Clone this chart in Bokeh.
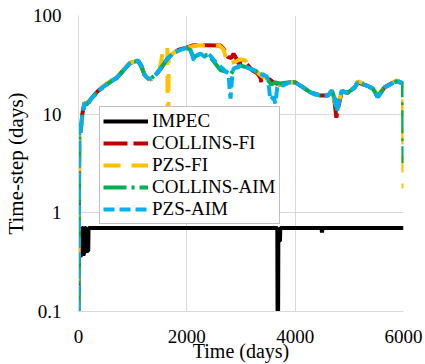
from bokeh.plotting import figure
from bokeh.models import Range1d, FixedTicker, CustomJSTickFormatter, Legend, LegendItem
from bokeh.embed import file_html
from bokeh.resources import INLINE

# ---------------- data ----------------
x_ticks = [0, 2000, 4000, 6000]
y_ticks = [0.1, 1, 10, 100]

series_names = ["IMPEC", "COLLINS-FI", "PZS-FI", "COLLINS-AIM", "PZS-AIM"]

impec_days = [0, 5, 35, 40, 60, 65, 85, 90, 110, 115, 140, 145, 180, 185,
              3670, 3675, 3685, 3690, 3700, 3720, 3725, 4485, 4495, 4505, 6000]
impec_dt = [0.12, 0.7, 0.7, 0.37, 0.37, 0.7, 0.7, 0.37, 0.4, 0.7, 0.7, 0.41, 0.41, 0.7,
            0.7, 0.09, 0.09, 0.7, 0.52, 0.52, 0.7, 0.7, 0.63, 0.7, 0.7]

collins_fi_days = [0, 15, 40, 70, 110, 150, 240, 330, 420, 520, 610, 700, 790, 860, 940,
                   1020, 1100, 1160, 1220, 1280, 1340, 1420, 1490, 1570, 1650, 1760, 1850,
                   1980, 2100, 2257, 2624, 2680, 2716, 2760, 2820, 2862, 2910, 2954, 3020,
                   3083, 3200, 3300, 3358, 3380, 3413, 3500, 3600, 3700, 3780, 3880, 4000,
                   4147, 4275, 4459, 4606, 4679, 4730, 4760, 4800, 4862, 4972, 5101, 5156,
                   5321, 5431, 5523, 5651, 5872, 5990]
collins_fi_dt = [0.1, 8.2, 6.5, 10, 13, 12.8, 14.5, 16.5, 18.5, 20, 22, 23, 26.5, 29, 32.5,
                 34, 35, 31, 25, 23, 22.5, 25, 27.5, 32, 37, 42, 45,
                 47, 49.6, 50, 49.6, 46, 42, 38, 37, 41, 37, 32.6, 33,
                 33.5, 28, 26, 23.5, 20.5, 25, 23, 21, 20, 19.5, 21, 21,
                 18.7, 16.7, 15.5, 15.5, 17.4, 13, 9.2, 12, 17, 16.5, 18.7, 21,
                 19.5, 18.2, 15, 18.7, 22, 20.5]

pzs_fi_days = [0, 15, 40, 70, 110, 150, 240, 330, 420, 520, 610, 700, 790, 860, 940,
               1020, 1100, 1160, 1220, 1280, 1340, 1420, 1490, 1530, 1560, 1640, 1650,
               1665, 1760, 1850, 1980, 2100, 2200, 2600, 2680, 2750, 2800, 2900, 2980,
               3083, 3138, 3303, 3400, 3500, 3600, 3700, 3880, 4000, 4147, 4275, 4459,
               4606, 4679, 4730, 4765, 4800, 4862, 4972, 5101, 5156, 5321, 5431, 5523,
               5651, 5872, 5990, 6000]
pzs_fi_dt = [0.1, 8.4, 6.6, 10, 13, 12.8, 14.5, 16.5, 18.5, 20.5, 22, 23.5, 26.5, 29.5, 33,
             34, 35, 31, 25, 23, 22.5, 25, 27.5, 35, 47, 47, 1.5,
             38, 42, 45, 47, 48.5, 49.6, 49.6, 45, 32.6, 33, 34, 36,
             35, 31, 26.5, 24, 23, 21, 20, 21, 21, 18.7, 16.7, 15.5,
             16, 17.4, 13, 10.8, 13, 17.4, 16.5, 19, 21.5, 20, 18.5, 15.5,
             19, 22, 20.5, 1.77]

collins_aim_days = [0, 15, 40, 70, 110, 150, 240, 330, 420, 520, 610, 700, 790, 860, 940,
                    1020, 1100, 1160, 1220, 1280, 1340, 1420, 1490, 1570, 1650, 1760, 1850,
                    1980, 2060, 2130, 2200, 2300, 2400, 2500, 2620, 2720, 2800, 2862, 2991,
                    3100, 3230, 3413, 3500, 3560, 3640, 3720, 3880, 4000, 4147, 4275, 4459,
                    4606, 4679, 4740, 4775, 4810, 4862, 4972, 5101, 5156, 5321, 5431, 5523,
                    5651, 5872, 5990, 6000]
collins_aim_dt = [0.1, 8, 6.8, 10, 12.5, 12.5, 14.5, 16.5, 18, 20, 21.5, 23.5, 26, 29, 32,
                  34, 34.5, 30, 25, 23, 23, 25, 28, 32, 37, 42, 44,
                  47, 45, 37.5, 40, 39, 40, 34, 28, 27, 25, 28, 31,
                  30, 28, 25, 22, 20, 21, 20.5, 21, 21, 18.7, 16.7, 15.5,
                  15.5, 17, 14, 11, 14, 17, 16.5, 18.7, 21, 19.5, 18.2, 15,
                  18.7, 21.5, 20.5, 3.2]

pzs_aim_days = [0, 15, 40, 70, 110, 150, 240, 330, 420, 520, 610, 700, 790, 860, 940,
                1020, 1100, 1160, 1220, 1280, 1340, 1420, 1490, 1570, 1650, 1760, 1850,
                1980, 2060, 2130, 2200, 2257, 2330, 2400, 2470, 2532, 2600, 2660, 2720,
                2770, 2790, 2807, 2830, 2862, 2930, 2991, 3100, 3230, 3330, 3413, 3480,
                3520, 3541, 3600, 3633, 3670, 3720, 3780, 3880, 4000, 4147, 4275, 4370,
                4459, 4606, 4679, 4720, 4771, 4800, 4862, 4972, 5101, 5156, 5240, 5321,
                5431, 5523, 5600, 5651, 5760, 5872, 5982]
pzs_aim_dt = [0.1, 8.5, 6.5, 10, 13, 12, 14.5, 16, 18.2, 20, 21.9, 23, 26.4, 29, 32.6,
              34, 35, 31, 25, 23, 22.8, 25, 27.7, 32, 36.6, 42, 44,
              47, 46, 35, 40, 41, 38, 41, 37, 33.5, 31, 29, 27,
              26, 18, 14.4, 22, 29, 30, 31, 30, 28, 26, 25, 24,
              18, 13.9, 15, 12.8, 18.7, 20, 19.5, 21, 21, 18.7, 16.7, 15.8,
              15.5, 15.5, 17.4, 15, 10.7, 13, 17.4, 16.2, 18.7, 21, 20, 19.5,
              18.2, 14.8, 17, 18.7, 20, 21.9, 20.4]

# ---------------- figure ----------------
FONT = "Liberation Serif"

p = figure(width=425, height=364, y_axis_type="log",
           x_range=Range1d(0, 6000), y_range=Range1d(0.1, 100),
           output_backend="svg", toolbar_location=None,
           min_border_left=10, min_border_right=22, min_border_top=15, min_border_bottom=10)
p.outline_line_color = None
p.background_fill_color = "white"
p.border_fill_color = "white"

p.xaxis.ticker = FixedTicker(ticks=x_ticks)
p.yaxis.ticker = FixedTicker(ticks=y_ticks)
p.yaxis.formatter = CustomJSTickFormatter(code="return tick.toString();")
p.xaxis.formatter = CustomJSTickFormatter(code="return tick.toString();")

for ax in (p.xaxis, p.yaxis):
    ax.major_tick_line_color = None
    ax.minor_tick_line_color = None
    ax.major_tick_out = 0
    ax.major_tick_in = 0
    ax.axis_line_color = "#d9d9d9"
    ax.major_label_text_font = FONT
    ax.major_label_text_font_size = "19px"
    ax.major_label_text_color = "black"
    ax.axis_label_text_font = FONT
    ax.axis_label_text_font_style = "normal"
    ax.axis_label_text_color = "black"

p.xaxis.axis_label = "Time (days)"
p.yaxis.axis_label = "Time-step (days)"
p.xaxis.axis_label_text_font_size = "20px"
p.yaxis.axis_label_text_font_size = "21px"
p.xaxis.major_label_standoff = 18
p.yaxis.major_label_standoff = 17
p.xaxis.axis_label_standoff = -6
p.yaxis.axis_label_standoff = 2

p.xgrid.grid_line_color = "#d9d9d9"
p.ygrid.grid_line_color = "#d9d9d9"
p.ygrid.minor_grid_line_color = None

lw = 4
r_impec = p.line(impec_days, impec_dt, line_color="#000000", line_width=lw)
r_cfi = p.line(collins_fi_days, collins_fi_dt, line_color="#C00000", line_width=lw,
               line_dash="24 6")
r_pfi = p.line(pzs_fi_days, pzs_fi_dt, line_color="#FFC000", line_width=lw,
               line_dash="17 11")
r_caim = p.line(collins_aim_days, collins_aim_dt, line_color="#00B050", line_width=lw,
                line_dash="23 5 3 5")
r_paim = p.line(pzs_aim_days, pzs_aim_dt, line_color="#00B0F0", line_width=lw,
                line_dash="11 5")

legend = Legend(items=[LegendItem(label=n, renderers=[r]) for n, r in
                       zip(series_names, [r_impec, r_cfi, r_pfi, r_caim, r_paim])],
                location=(21, 87))
legend.label_text_font = FONT
legend.label_text_font_size = "19px"
legend.label_text_color = "black"
legend.glyph_width = 45
legend.glyph_height = 18
legend.label_height = 18
legend.label_standoff = 4
legend.spacing = 0
legend.padding = 3
legend.margin = 0
legend.border_line_color = "#7f7f7f"
legend.border_line_width = 1
legend.background_fill_color = "white"
legend.background_fill_alpha = 1.0
p.add_layout(legend, "center")

open("out.html", "w").write(file_html(p, INLINE))
